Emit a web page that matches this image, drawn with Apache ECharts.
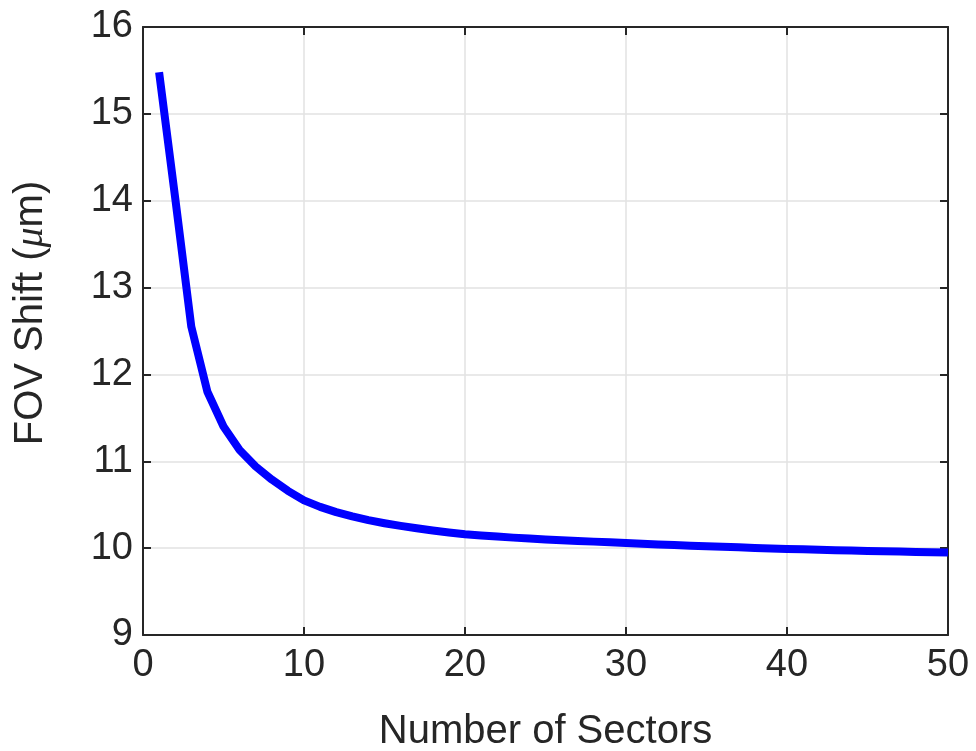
<!DOCTYPE html>
<html>
<head>
<meta charset="utf-8">
<title>FOV Shift vs Number of Sectors</title>
<script src="https://cdn.jsdelivr.net/npm/echarts@6/dist/echarts.min.js"></script>
<style>
    html, body { margin: 0; padding: 0; background: #fff; }
    #chart { width: 976px; height: 751px; }
</style>
</head>
<body>
<div id="chart"></div>
<script>
    // number of sectors (x) and FOV shift in um (y)
    const sectors = [1, 2, 3, 4, 5, 6, 7, 8, 9, 10,
        11, 12, 13, 14, 15, 16, 17, 18, 19, 20,
        21, 22, 23, 24, 25, 26, 27, 28, 29, 30,
        31, 32, 33, 34, 35, 36, 37, 38, 39, 40,
        41, 42, 43, 44, 45, 46, 47, 48, 49, 50];
    const fovShift = [15.48, 14.03, 12.55, 11.80, 11.40, 11.13, 10.94, 10.79, 10.66, 10.55,
        10.475, 10.415, 10.365, 10.322, 10.287, 10.256, 10.229, 10.204, 10.181, 10.160,
        10.146, 10.133, 10.121, 10.110, 10.100, 10.091, 10.083, 10.075, 10.067, 10.060,
        10.051, 10.043, 10.035, 10.028, 10.021, 10.015, 10.009, 10.003, 9.997, 9.991,
        9.986, 9.981, 9.976, 9.972, 9.968, 9.964, 9.960, 9.956, 9.953, 9.950];

    const textColor = '#262626';
    const fontFamily = 'Liberation Sans, Arial, sans-serif';

    let chart = echarts.init(document.getElementById('chart'), null, {renderer: 'canvas'});

    // box axes (top / right) with inward ticks and no labels
    let boxAxis = {
        axisLine: {show: true, onZero: false, lineStyle: {color: textColor, width: 2}},
        axisTick: {show: true, inside: true, length: 8, lineStyle: {color: textColor, width: 2}},
        axisLabel: {show: false},
        splitLine: {show: false}
    };

    let option = {
        animation: false,
        backgroundColor: '#fff',
        grid: {left: 143, right: 28, top: 27, bottom: 116, containLabel: false, outerBoundsMode: 'none'},
        xAxis: [
            {
                type: 'value',
                min: 0,
                max: 50,
                interval: 10,
                name: 'Number of Sectors',
                nameLocation: 'middle',
                nameGap: 77,
                nameTextStyle: {fontSize: 40, color: textColor, fontFamily: fontFamily},
                axisLine: {show: true, onZero: false, lineStyle: {color: textColor, width: 2}},
                axisTick: {show: true, inside: true, length: 8, lineStyle: {color: textColor, width: 2}},
                axisLabel: {fontSize: 38, color: textColor, fontFamily: fontFamily, margin: 12},
                splitLine: {show: true, lineStyle: {color: '#e2e2e2', width: 1.5}}
            },
            Object.assign({}, boxAxis, {type: 'value', position: 'top', min: 0, max: 50, interval: 10})
        ],
        yAxis: [
            {
                type: 'value',
                min: 9,
                max: 16,
                interval: 1,
                name: 'FOV Shift ({i|μ}m)',
                nameLocation: 'middle',
                nameGap: 92,
                nameTextStyle: {
                    fontSize: 40, color: textColor, fontFamily: fontFamily,
                    padding: [0, 0, 0, 36],
                    rich: {
                        i: {fontSize: 40, fontStyle: 'italic', color: textColor, fontFamily: 'Liberation Serif, serif'}
                    }
                },
                axisLine: {show: true, onZero: false, lineStyle: {color: textColor, width: 2}},
                axisTick: {show: true, inside: true, length: 8, lineStyle: {color: textColor, width: 2}},
                axisLabel: {fontSize: 38, color: textColor, fontFamily: fontFamily, margin: 10},
                splitLine: {show: true, lineStyle: {color: '#e2e2e2', width: 1.5}}
            },
            Object.assign({}, boxAxis, {type: 'value', position: 'right', min: 9, max: 16, interval: 1})
        ],
        series: [
            {
                type: 'line',
                data: sectors.map((n, i) => [n, fovShift[i]]),
                showSymbol: false,
                smooth: false,
                lineStyle: {color: '#0000ff', width: 8, cap: 'butt', join: 'round'},
                itemStyle: {color: '#0000ff'},
                clip: true
            }
        ]
    };
    chart.setOption(option);
</script>
</body>
</html>
